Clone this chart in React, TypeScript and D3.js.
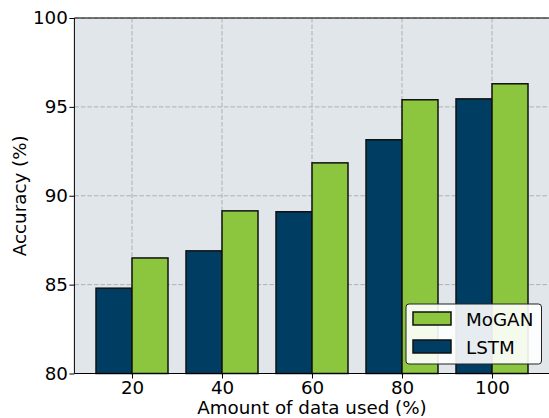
import { useEffect, useRef } from "react";
import * as d3 from "d3";

const amounts = [20, 40, 60, 80, 100];
const lstm = [84.8, 86.9, 89.1, 93.15, 95.45];
const mogan = [86.5, 89.15, 91.85, 95.4, 96.3];
const yTicks = [80, 85, 90, 95, 100];

const W = 549;
const H = 418;
const barW = 8;

export default function App() {
  const ref = useRef<SVGSVGElement>(null);

  useEffect(() => {
    const svg = d3.select(ref.current);
    svg.selectAll("*").remove();
    const font = "DejaVu Sans, sans-serif";
    const fs = 18.3;

    const left = 74.4;
    const right = 549.6;
    const top = 18;
    const bottom = 373.5;

    const x = d3.scaleLinear().domain([7.2, 112.8]).range([left, right]);
    const y = d3.scaleLinear().domain([80, 100]).range([bottom, top]);

    svg
      .append("rect")
      .attr("x", left)
      .attr("y", top)
      .attr("width", right - left)
      .attr("height", bottom - top)
      .attr("fill", "#e0e6e9");

    const grid = svg.append("g").attr("stroke", "#b0b0b0").attr("stroke-width", 1).attr("stroke-dasharray", "4.5,2");
    grid
      .selectAll("line.v")
      .data(amounts)
      .join("line")
      .attr("x1", (d) => x(d))
      .attr("x2", (d) => x(d))
      .attr("y1", top)
      .attr("y2", bottom);
    grid
      .selectAll("line.h")
      .data(yTicks)
      .join("line")
      .attr("x1", left)
      .attr("x2", right)
      .attr("y1", (d) => y(d))
      .attr("y2", (d) => y(d));

    const bars = svg.append("g").attr("stroke", "#111").attr("stroke-width", 1.5);
    bars
      .selectAll("rect.l")
      .data(lstm)
      .join("rect")
      .attr("x", (_, i) => x(amounts[i] - barW))
      .attr("width", x(barW) - x(0))
      .attr("y", (d) => y(d))
      .attr("height", (d) => y(80) - y(d))
      .attr("fill", "#003d62");
    bars
      .selectAll("rect.m")
      .data(mogan)
      .join("rect")
      .attr("x", (_, i) => x(amounts[i]))
      .attr("width", x(barW) - x(0))
      .attr("y", (d) => y(d))
      .attr("height", (d) => y(80) - y(d))
      .attr("fill", "#8cc63f");

    // spines
    svg
      .append("path")
      .attr("d", `M${left},${bottom}V${top}H${right}V${bottom}H${left}`)
      .attr("fill", "none")
      .attr("stroke", "#000")
      .attr("stroke-width", 1);

    const yAxis = svg
      .append("g")
      .attr("transform", `translate(${left},0)`)
      .call(d3.axisLeft(y).tickValues(yTicks).tickSize(5).tickPadding(1.5))
      .call((g) => g.select(".domain").remove());
    yAxis.selectAll("text").attr("font-family", font).attr("font-size", fs).attr("fill", "#000");

    const xAxis = svg
      .append("g")
      .attr("transform", `translate(0,${bottom})`)
      .call(d3.axisBottom(x).tickValues(amounts).tickSize(5).tickPadding(2.4))
      .call((g) => g.select(".domain").remove());
    xAxis.selectAll("text").attr("font-family", font).attr("font-size", fs).attr("fill", "#000");

    svg
      .append("text")
      .attr("x", 312)
      .attr("y", 414)
      .attr("text-anchor", "middle")
      .attr("font-family", font)
      .attr("font-size", fs)
      .text("Amount of data used (%)");

    svg
      .append("text")
      .attr("transform", `translate(26,${(top + bottom) / 2}) rotate(-90)`)
      .attr("text-anchor", "middle")
      .attr("font-family", font)
      .attr("font-size", fs)
      .text("Accuracy (%)");

    // legend
    const lg = svg.append("g");
    lg.append("rect")
      .attr("x", 406)
      .attr("y", 304)
      .attr("width", 135.5)
      .attr("height", 60)
      .attr("rx", 3)
      .attr("fill", "#fff")
      .attr("fill-opacity", 0.9)
      .attr("stroke", "#222")
      .attr("stroke-width", 1);
    const items = [
      { label: "MoGAN", color: "#8cc63f", y: 312 },
      { label: "LSTM", color: "#003d62", y: 340 },
    ];
    items.forEach((it) => {
      lg.append("rect")
        .attr("x", 413)
        .attr("y", it.y)
        .attr("width", 38)
        .attr("height", 13)
        .attr("fill", it.color)
        .attr("stroke", "#111")
        .attr("stroke-width", 1.5);
      lg.append("text")
        .attr("x", 466)
        .attr("y", it.y + 13.5)
        .attr("font-family", font)
        .attr("font-size", fs)
        .text(it.label);
    });
  }, []);

  return (
    <svg
      ref={ref}
      width={W}
      height={H}
      style={{ position: "fixed", left: 0, top: 0, display: "block", background: "#fff" }}
    />
  );
}
